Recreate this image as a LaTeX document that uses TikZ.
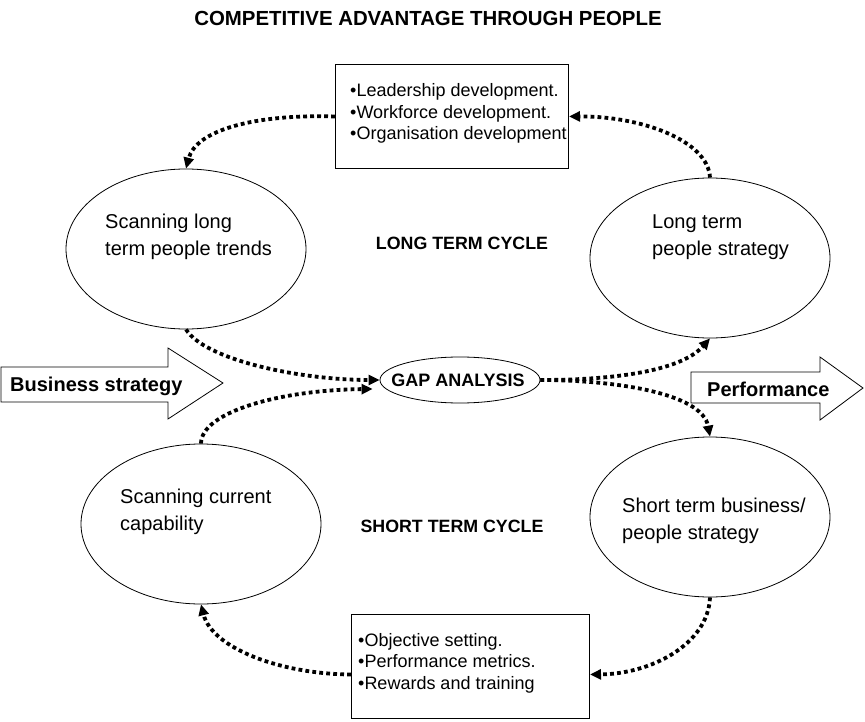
\documentclass[tikz,border=0pt]{standalone}
\usepackage{fontspec}
\setmainfont{Liberation Sans}
\usetikzlibrary{arrows.meta,shapes.geometric,calc}
\newcommand\mylines[1]{\begin{tabular}[t]{@{}l@{}}#1\end{tabular}}
\begin{document}
\begin{tikzpicture}[x=1pt,y=-1pt,
  oval/.style={ellipse, draw, line width=0.8pt, minimum width=240pt, minimum height=160pt, inner sep=0pt},
  ovaltext/.style={anchor=base west, inner sep=0pt, font=\fontsize{20}{27}\selectfont},
  listbox/.style={draw, line width=1pt, anchor=north west, inner sep=0pt},
  listtext/.style={anchor=base west, inner sep=0pt, font=\fontsize{18}{21.5}\selectfont},
  cyclelabel/.style={inner sep=0pt, font=\bfseries\fontsize{17.8}{20}\selectfont},
  bigarrow/.style={draw, line width=0.8pt, fill=white},
  arrowlabel/.style={anchor=base west, inner sep=0pt, font=\bfseries\fontsize{20}{24}\selectfont},
  conn/.style={line width=3.8pt, dash pattern=on 3.8pt off 3.2pt, -{Triangle[length=11pt,width=10pt]}}
]
\useasboundingbox (0,0) rectangle (865,722);
\fill[white] (0,0) rectangle (865,722);

% title
\node[inner sep=0pt, font=\bfseries\fontsize{20.4}{24}\selectfont] (title) at (428,18) {COMPETITIVE ADVANTAGE THROUGH PEOPLE};

% ellipses
\node[oval] (tl) at (186,249) {};
\node[oval] (tr) at (710,258) {};
\node[oval] (bl) at (201,524) {};
\node[oval] (br) at (710,517) {};

\node[ovaltext] (tltext) at (105,229) {\mylines{Scanning long\\term people trends}};
\node[ovaltext] (trtext) at (652,229) {\mylines{Long term\\people strategy}};
\node[ovaltext] (bltext) at (120,503) {\mylines{Scanning current\\capability}};
\node[ovaltext] (brtext) at (622,512) {\mylines{Short term business/\\people strategy}};

% boxes
\node[listbox, minimum width=233pt, minimum height=104pt] (topbox) at (335,64) {};
\node[listtext] (toptext) at (350,97) {\mylines{•Leadership development.\\•Workforce development.\\•Organisation development}};
\node[listbox, minimum width=238pt, minimum height=104pt] (botbox) at (351,614) {};
\node[listtext] (bottext) at (358,646) {\mylines{•Objective setting.\\•Performance metrics.\\•Rewards and training}};

% cycle labels
\node[cyclelabel] (longlbl) at (462,243) {LONG TERM CYCLE};
\node[cyclelabel] (shortlbl) at (452,526) {SHORT TERM CYCLE};

% gap analysis
\node[ellipse, draw, line width=0.8pt, minimum width=160pt, minimum height=46pt, inner sep=0pt] (gap) at (460,380) {};
\node[inner sep=0pt, font=\bfseries\fontsize{18}{20}\selectfont] (gaptext) at (458,380) {GAP ANALYSIS};

% big arrows
\draw[bigarrow] (1,367) -- (168,367) -- (168,348) -- (223,383) -- (168,419) -- (168,402) -- (1,402) -- cycle;
\node[arrowlabel] (bizlbl) at (10,391) {Business strategy};
\draw[bigarrow] (691,372) -- (820,372) -- (820,357) -- (863,388) -- (820,420) -- (820,403) -- (691,403) -- cycle;
\node[arrowlabel] (perflbl) at (707,396) {Performance};

% connectors
\draw[conn] (topbox.west) .. controls (255,114) and (196,130) .. (tl.north);
\draw[conn] (tr.north) .. controls (708,140) and (640,116) .. (topbox.east);
\draw[conn] (tl.south) .. controls (205,360) and (300,380) .. (gap.west);
\draw[conn] (bl.north) .. controls (201,412) and (280,390) .. ($(gap.west)+(-7,9)$);
\draw[conn] (gap.east) .. controls (610,380) and (680,372) .. (tr.south);
\draw[conn] (gap.east) .. controls (610,380) and (702,392) .. (br.north);
\draw[conn] (br.south) .. controls (708,645) and (650,674) .. ([yshift=-8pt]botbox.east);
\draw[conn] ([yshift=-8pt]botbox.west) .. controls (280,674) and (212,648) .. (bl.south);
\end{tikzpicture}
\end{document}
